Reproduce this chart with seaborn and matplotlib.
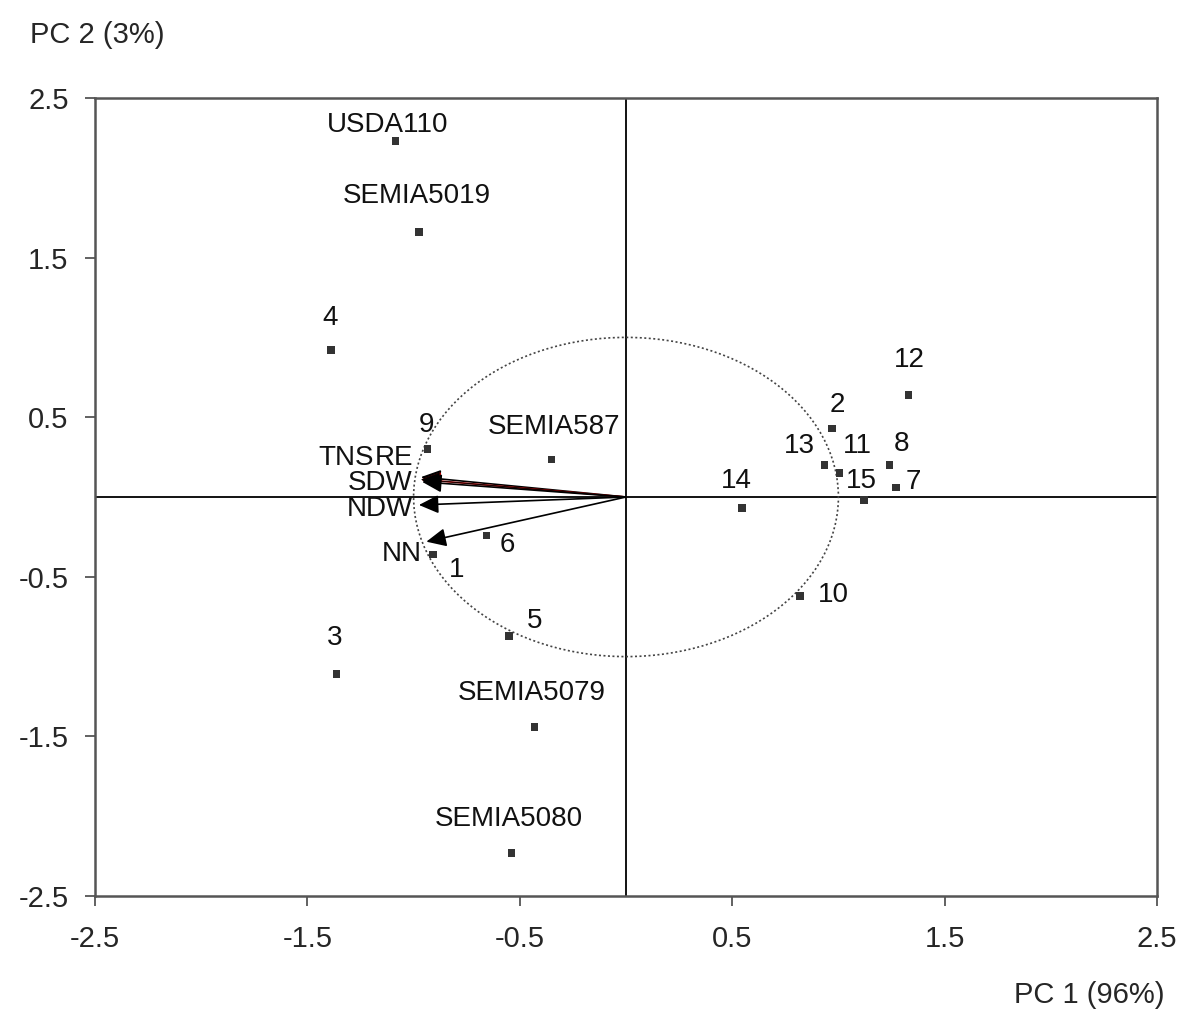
import numpy as np
import pandas as pd
import matplotlib
matplotlib.use("Agg")
import matplotlib.pyplot as plt
from matplotlib.patches import Ellipse
import seaborn as sns

# ---- data ----
strains = ["USDA110", "SEMIA5019", "4", "9", "SEMIA587", "6", "1", "5", "3",
           "SEMIA5079", "SEMIA5080", "14", "10", "2", "13", "11", "15", "8", "7", "12"]
pc1 = [-1.085, -0.976, -1.39, -0.934, -0.35, -0.656, -0.91, -0.552, -1.363,
       -0.43, -0.54, 0.547, 0.82, 0.97, 0.934, 1.005, 1.12, 1.24, 1.27, 1.33]
pc2 = [2.23, 1.66, 0.92, 0.30, 0.235, -0.24, -0.36, -0.87, -1.11,
       -1.44, -2.23, -0.07, -0.62, 0.43, 0.20, 0.15, -0.02, 0.20, 0.06, 0.64]

variables = ["TNS", "RE", "SDW", "NDW", "NN"]
var_pc1 = [-0.965, -0.965, -0.96, -0.975, -0.94]
var_pc2 = [0.125, 0.11, 0.095, -0.05, -0.28]

x_ticks = [-2.5, -1.5, -0.5, 0.5, 1.5, 2.5]
y_ticks = [-2.5, -1.5, -0.5, 0.5, 1.5, 2.5]

# label offsets in pixels (layout only)
label_offsets = {
    "USDA110": (-8, 16), "SEMIA5019": (-2, 36), "4": (-1, 32), "9": (-1, 24),
    "SEMIA587": (2, 32), "6": (21, -10), "1": (24, -16), "5": (26, 15),
    "3": (-2, 36), "SEMIA5079": (-3, 34), "SEMIA5080": (-2, 34), "14": (-6, 27),
    "10": (33, 1), "2": (5, 23), "13": (-25, 19), "11": (18, 27), "15": (-3, 19),
    "8": (12, 21), "7": (18, 5), "12": (1, 35),
}
var_label_pos = {
    "TNS": (-1.32, 0.245), "RE": (-1.09, 0.245), "SDW": (-1.156, 0.085),
    "NDW": (-1.16, -0.075), "NN": (-1.057, -0.36),
}
var_colors = {"TNS": "black", "RE": "#b00000", "SDW": "black", "NDW": "black", "NN": "black"}

df = pd.DataFrame({"strain": strains, "PC1": pc1, "PC2": pc2})

sns.set_style("white")
plt.rcParams["font.family"] = ["Liberation Sans", "DejaVu Sans"]

fig = plt.figure(figsize=(11.8, 10.09), dpi=100)
ax = fig.add_axes([95 / 1180, 1 - 896 / 1009, (1157 - 95) / 1180, (896 - 98) / 1009])

ax.set_xlim(-2.5, 2.5)
ax.set_ylim(-2.5, 2.5)

# axes cross
ax.axvline(0, color="black", lw=1.3, zorder=1)
ax.axhline(0, color="black", lw=1.3, zorder=1)

# unit circle (correlation circle)
circ = Ellipse((0, 0), 2, 2, fill=False, ls=(0, (1.2, 1.5)), lw=1.2, color="#444444", zorder=1)
ax.add_patch(circ)

# points
sns.scatterplot(data=df, x="PC1", y="PC2", marker="s", s=30, color="#333333",
                edgecolor="none", ax=ax, zorder=3, legend=False)

LBL = 20
for name, x, y in zip(strains, pc1, pc2):
    dx, dy = label_offsets[name]
    ax.annotate(name, (x, y), xytext=(dx, dy), textcoords="offset pixels",
                ha="center", va="center", fontsize=LBL, color="#111111")

# variable arrows
ARROW = "-|>,head_length=0.6,head_width=0.28"
for name, x, y in zip(variables, var_pc1, var_pc2):
    ax.annotate("", xy=(x, y), xytext=(0, 0),
                arrowprops=dict(arrowstyle=ARROW, color=var_colors[name], lw=1.2,
                                mutation_scale=20, shrinkA=0, shrinkB=0),
                zorder=4)
    if name == "RE":
        ax.annotate("", xy=(x, y), xytext=(0, 0),
                    arrowprops=dict(arrowstyle=ARROW, color="black", lw=0.6,
                                    mutation_scale=20, shrinkA=0, shrinkB=0),
                    zorder=4)
for name in variables:
    lx, ly = var_label_pos[name]
    ax.text(lx, ly, name, ha="center", va="center", fontsize=LBL, color="#111111", zorder=5)

# ticks and frame
ax.set_xticks(x_ticks)
ax.set_yticks(y_ticks)
ax.set_xticklabels([f"{t:g}" for t in x_ticks], fontsize=21)
ax.set_yticklabels([f"{t:g}" for t in y_ticks], fontsize=21)
ax.tick_params(axis="x", direction="out", length=7, width=1.3, color="#555555", pad=14,
               bottom=True)
ax.tick_params(axis="y", direction="out", length=7, width=1.3, color="#555555", pad=12,
               left=True)
for sp in ax.spines.values():
    sp.set_visible(True)
    sp.set_color("#555555")
    sp.set_linewidth(1.8)
ax.set_xlabel("")
ax.set_ylabel("")

fig.text(30 / 1180, 1 - 35 / 1009, "PC 2 (3%)", ha="left", va="center", fontsize=21)
fig.text(1165 / 1180, 1 - 995 / 1009, "PC 1 (96%)", ha="right", va="center", fontsize=21)

fig.savefig("out.png", dpi=100, facecolor="white")
